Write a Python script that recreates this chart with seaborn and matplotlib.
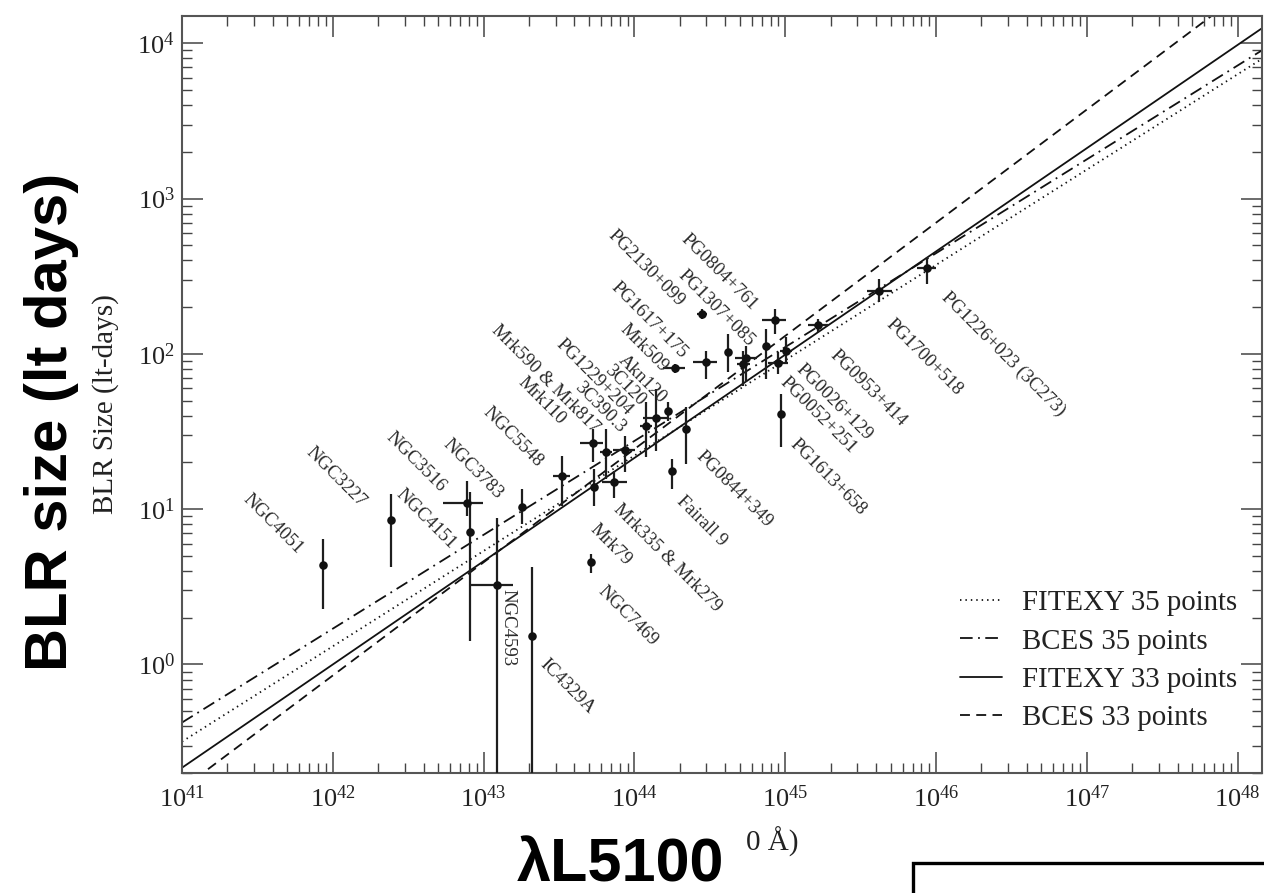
import numpy as np
import pandas as pd
import matplotlib
matplotlib.use("Agg")
import matplotlib.pyplot as plt
from matplotlib.patches import Rectangle
from matplotlib.ticker import LogLocator, NullFormatter, LogFormatterSciNotation
import seaborn as sns

# ---------------- data (log10 values) ----------------
# x: log10 lambda*L_lambda(5100 A) [erg/s]; y: log10 BLR size [lt-days]
log_L = [41.937, 42.384, 42.888, 42.910, 43.087, 43.319, 43.253, 43.522,
         43.723, 43.732, 43.812, 43.865, 43.938, 44.077, 44.141, 44.225,
         44.342, 44.247, 43.710, 44.269, 44.446, 44.475, 44.623, 44.718,
         44.740, 44.873, 44.932, 44.954, 45.005, 44.970, 45.219, 45.622,
         45.938]
log_L_lo = [41.937, 42.384, 42.733, 42.910, 42.910, 43.319, 43.253, 43.460,
            43.639, 43.732, 43.772, 43.783, 43.860, 44.037, 44.059, 44.225,
            44.342, 44.247, 43.710, 44.192, 44.413, 44.391, 44.623, 44.682,
            44.667, 44.873, 44.844, 44.888, 44.966, 44.970, 45.153, 45.540,
            45.871]
log_L_hi = [41.937, 42.384, 42.998, 42.910, 43.197, 43.319, 43.253, 43.573,
            43.794, 43.732, 43.849, 43.949, 44.004, 44.117, 44.214, 44.225,
            44.342, 44.247, 43.710, 44.336, 44.483, 44.546, 44.623, 44.767,
            44.811, 44.873, 45.005, 45.020, 45.043, 44.970, 45.286, 45.706,
            46.003]
log_R = [0.639, 0.931, 1.043, 0.856, 0.512, 0.183, 1.011, 1.215,
         1.424, 1.146, 1.370, 1.172, 1.381, 1.534, 1.587, 1.634,
         1.516, 1.247, 0.660, 1.908, 2.258, 1.950, 2.015, 1.935,
         1.972, 2.054, 2.221, 1.942, 2.021, 1.613, 2.187, 2.408,
         2.553]
log_R_lo = [0.355, 0.630, 0.957, 0.150, -1.0, -1.0, 0.903, 1.021,
            1.301, 1.021, 1.194, 1.075, 1.237, 1.334, 1.376, 1.570,
            1.290, 1.129, 0.592, 1.880, 2.226, 1.839, 1.882, 1.796,
            1.817, 1.839, 2.129, 1.871, 1.935, 1.398, 2.140, 2.334,
            2.452]
log_R_hi = [0.806, 1.097, 1.183, 1.108, 0.946, 0.628, 1.129, 1.344,
            1.516, 1.258, 1.516, 1.247, 1.473, 1.688, 1.774, 1.688,
            1.656, 1.323, 0.710, 1.936, 2.290, 2.021, 2.129, 2.021,
            2.054, 2.161, 2.290, 2.011, 2.108, 1.742, 2.226, 2.484,
            2.624]

# object labels and where they are written (log10 data coords)
obj_names = ["NGC4051", "NGC3227", "NGC3516", "NGC4151", "NGC3783", "NGC5548",
             "Mrk110", "Mrk590 & Mrk817", "3C390.3", "PG1229+204", "3C120",
             "Akn120", "Mrk509", "PG1617+175", "PG2130+099", "PG1307+085",
             "PG0804+761", "Mrk335 & Mrk279", "Mrk79", "NGC7469", "Fairall 9",
             "PG0844+349", "NGC4593", "IC4329A", "PG0026+129", "PG0052+251",
             "PG1613+658", "PG0953+414", "PG1700+518", "PG1226+023 (3C273)"]
label_lx = [41.462, 41.882, 42.412, 42.479, 42.788, 43.054,
            43.286, 43.109, 43.661, 43.540, 43.860,
            43.949, 43.960, 43.905, 43.883, 44.347,
            44.369, 43.916, 43.761, 43.816, 44.336,
            44.468, 43.215, 43.429, 45.131, 45.020,
            45.087, 45.352, 45.728, 46.093]
label_ly = [1.118, 1.419, 1.516, 1.150, 1.473, 1.677,
            1.871, 2.205, 1.839, 2.118, 1.946,
            2.011, 2.215, 2.484, 2.817, 2.559,
            2.795, 1.054, 0.925, 0.527, 1.108,
            1.398, 0.484, 0.054, 1.957, 1.871,
            1.473, 2.043, 2.247, 2.419]
label_rot = [-45] * 22 + [-90] + [-45] * 7

# regression lines: log10 R at 1e44 erg/s and slope
fit_names = ["FITEXY 35 points", "BCES 35 points", "FITEXY 33 points", "BCES 33 points"]
fit_logR44 = [1.345, 1.4395, 1.330, 1.387]
fit_slope = [0.614, 0.6045, 0.665, 0.729]
fit_styles = [(0, (0.8, 2.2)), (0, (7, 3, 1, 3)), "-", (0, (5.5, 3.5))]

# ---------------- figure ----------------
sns.set_theme(style="ticks")
plt.rcParams["font.family"] = ["Liberation Serif", "DejaVu Serif"]
plt.rcParams["mathtext.fontset"] = "custom"
plt.rcParams["mathtext.rm"] = "Liberation Serif"
plt.rcParams["mathtext.it"] = "Liberation Serif:italic"
plt.rcParams["mathtext.bf"] = "Liberation Serif:bold"

W, H = 1264, 893
fig = plt.figure(figsize=(W / 100, H / 100), dpi=100)
fig.patch.set_facecolor("white")
ax = fig.add_axes([182 / W, 1 - 773 / H, 1080 / W, 757 / H])
ax.set_facecolor("white")
ax.set_xscale("log")
ax.set_yscale("log")

xlim = (1e41, 1.45e48)
ylim = (0.2, 1.5e4)

# fit lines
x_end = np.array(xlim)
for name, a, s, ls in zip(fit_names, fit_logR44, fit_slope, fit_styles):
    df_line = pd.DataFrame({"L": x_end, "R": 10 ** (a + s * (np.log10(x_end) - 44))})
    sns.lineplot(data=df_line, x="L", y="R", ax=ax, color="#111111",
                 linewidth=1.3, linestyle=ls, label=name, zorder=2)

# data points with error bars
L = 10 ** np.array(log_L)
R = 10 ** np.array(log_R)
xerr = [L - 10 ** np.array(log_L_lo), 10 ** np.array(log_L_hi) - L]
yerr = [R - 10 ** np.array(log_R_lo), 10 ** np.array(log_R_hi) - R]
ax.errorbar(L, R, xerr=xerr, yerr=yerr, fmt="none", ecolor="#1e1e1e",
            elinewidth=1.6, capsize=0, zorder=3)
sns.scatterplot(x=L, y=R, ax=ax, color="#111111", s=38, linewidth=0,
                zorder=4, legend=False)

# labels
for name, lx, ly, rot in zip(obj_names, label_lx, label_ly, label_rot):
    ax.text(10 ** lx, 10 ** ly, name, rotation=rot, rotation_mode="anchor",
            ha="left", va="top", fontsize=13.5, color="#2a2a2a", zorder=5)

ax.set_xlim(*xlim)
ax.set_ylim(*ylim)
ax.set_xlabel("")
ax.set_ylabel("")

# ticks
ax.xaxis.set_major_locator(LogLocator(base=10, numticks=20))
ax.yaxis.set_major_locator(LogLocator(base=10, numticks=20))
ax.xaxis.set_minor_locator(LogLocator(base=10, subs=np.arange(2, 10), numticks=100))
ax.yaxis.set_minor_locator(LogLocator(base=10, subs=np.arange(2, 10), numticks=100))
ax.xaxis.set_minor_formatter(NullFormatter())
ax.yaxis.set_minor_formatter(NullFormatter())
ax.xaxis.set_major_formatter(LogFormatterSciNotation())
ax.yaxis.set_major_formatter(LogFormatterSciNotation())
ax.tick_params(which="both", direction="in", top=True, right=True,
               color="#444444", labelcolor="#222222")
ax.tick_params(which="major", length=15, width=1.1, labelsize=19)
ax.tick_params(which="minor", length=7.5, width=1.0)
ax.tick_params(axis="x", which="major", pad=9)
ax.tick_params(axis="y", which="major", pad=5)
for sp in ax.spines.values():
    sp.set_color("#555555")
    sp.set_linewidth(1.5)

# legend
leg = ax.legend(loc="upper left", bbox_to_anchor=((960 - 182) / 1080, (773 - 590) / 757),
                frameon=False, fontsize=20.8, handlelength=1.45, handletextpad=0.7,
                labelspacing=0.42, borderpad=0, borderaxespad=0)
for t in leg.get_texts():
    t.set_color("#222222")

# overlay / axis texts
fig.text(106 / W, 1 - 404 / H, "BLR Size (lt-days)", rotation=90, ha="center",
         va="center", fontsize=21, color="#222222")
fig.text(772 / W, 1 - 851 / H, "0 Å)", ha="center", va="baseline",
         fontsize=21, color="#222222")
fig.text(51.5 / W, 1 - 421.5 / H, "BLR size (lt days)", rotation=90, ha="center",
         va="center", fontsize=43, fontweight="bold", family="Liberation Sans",
         color="black")
fig.text(620 / W, 1 - 882 / H, "λL5100", ha="center", va="baseline",
         fontsize=44, fontweight="bold", family="Liberation Sans", color="black")

box = Rectangle((913 / W, -0.02), 1.0, (893 - 863) / H + 0.02,
                transform=fig.transFigure, fill=False, lw=2.4, ec="black",
                clip_on=False)
fig.patches.append(box)

fig.savefig("out.png", dpi=100, facecolor="white")
